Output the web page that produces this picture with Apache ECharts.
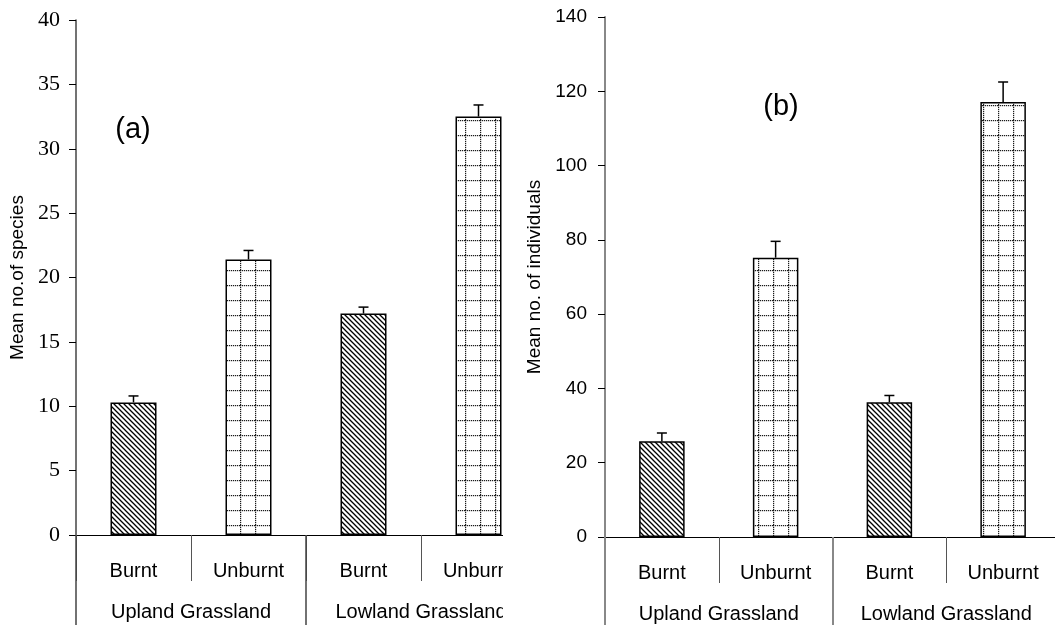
<!DOCTYPE html>
<html><head><meta charset="utf-8">
<script src="https://cdn.jsdelivr.net/npm/echarts@6/dist/echarts.min.js"></script>
<style>
html,body{margin:0;padding:0;width:1055px;height:625px;overflow:hidden;background:#fff;}
#wrapA{position:absolute;left:0;top:0;width:503px;height:625px;overflow:hidden;}
#chartA{position:absolute;left:0;top:0;width:560px;height:625px;}
#chartB{position:absolute;left:503px;top:0;width:560px;height:625px;}
</style></head><body>
<div id="wrapA"><div id="chartA"></div></div>
<div id="chartB"></div>
<script>
// ---- data ----
const categories = ['Burnt', 'Unburnt', 'Burnt', 'Unburnt'];
const groups = ['Upland Grassland', 'Lowland Grassland'];
const speciesMean = [10.3, 21.4, 17.2, 32.5];
const speciesErrTop = [10.8, 22.1, 17.7, 33.4];
const individualsMean = [25.8, 75.2, 36.3, 117.1];
const individualsErrTop = [28.0, 79.6, 38.1, 122.5];
const speciesTicks = [0, 40, 5];      // min, max, interval
const individualsTicks = [0, 140, 20]; // min, max, interval
const titleA = 'Mean no.of species';
const titleB = 'Mean no. of individuals';

// ---- patterns ----
function hatchPattern() {
  const s = 5, c = document.createElement('canvas'); c.width = s; c.height = s;
  const g = c.getContext('2d');
  g.fillStyle = '#fff'; g.fillRect(0, 0, s, s);
  g.strokeStyle = '#000'; g.lineWidth = 1.3;
  g.beginPath();
  g.moveTo(-1, -1); g.lineTo(s + 1, s + 1);
  g.moveTo(-1, s - 1); g.lineTo(1, s + 1);
  g.moveTo(s - 1, -1); g.lineTo(s + 1, 1);
  g.stroke();
  return c;
}
function gridPattern() {
  const s = 15, c = document.createElement('canvas'); c.width = s; c.height = s;
  const g = c.getContext('2d');
  g.fillStyle = '#fff'; g.fillRect(0, 0, s, s);
  g.fillStyle = '#1a1a1a';
  for (let x = 0; x < s; x += 2) g.fillRect(x, 0, 1.2, 1.2);
  for (let y = 0; y < s; y += 2) g.fillRect(0, y, 1.2, 1.2);
  return c;
}
const hatch = hatchPattern();
const gridP = gridPattern();

function renderErr(params, api) {
  const x = api.value(0), lo = api.value(1), hi = api.value(2);
  const p0 = api.coord([x, lo]), p1 = api.coord([x, hi]);
  const hw = 5;
  return {
    type: 'group', children: [
      { type: 'line', shape: { x1: p0[0], y1: p0[1], x2: p1[0], y2: p1[1] }, style: { stroke: '#000', lineWidth: 1.5 } },
      { type: 'line', shape: { x1: p1[0] - hw, y1: p1[1], x2: p1[0] + hw, y2: p1[1] }, style: { stroke: '#000', lineWidth: 1.5 } }
    ]
  };
}

function buildOption(cfg) {
  const sans = 'Liberation Sans, Arial, sans-serif';
  return {
    animation: false,
    grid: { left: cfg.left, top: cfg.top, width: cfg.width, height: cfg.height },
    xAxis: [
      {
        type: 'category', data: categories, position: 'bottom',
        axisLine: { show: true, lineStyle: { color: '#000', width: 1 } },
        axisTick: { show: true, interval: 0, length: 46, lineStyle: { color: '#555', width: 1 } },
        axisLabel: { interval: 0, margin: 26, fontSize: 20, fontFamily: sans, color: '#000' },
        splitLine: { show: false }
      },
      {
        type: 'category', data: groups, position: 'bottom',
        axisLine: { show: false },
        axisTick: { show: true, interval: 0, length: 100, lineStyle: { color: cfg.groupTickColor, width: cfg.groupTickWidth } },
        axisLabel: { interval: 0, margin: 67, fontSize: 20, fontFamily: sans, color: '#000' },
        splitLine: { show: false }
      }
    ],
    yAxis: {
      type: 'value', min: cfg.ticks[0], max: cfg.ticks[1], interval: cfg.ticks[2],
      axisLine: { show: true, lineStyle: { color: cfg.yLineColor, width: cfg.yLineWidth } },
      axisTick: { show: true, length: 7, lineStyle: { color: '#000', width: 1 } },
      axisLabel: { margin: cfg.labelMargin, fontSize: cfg.labelSize, fontFamily: cfg.labelFont, color: '#000' },
      splitLine: { show: false },
      name: cfg.title, nameLocation: 'middle', nameGap: cfg.nameGap,
      nameTextStyle: { fontSize: 19, fontFamily: sans, color: '#000' }
    },
    series: [
      {
        type: 'bar', xAxisIndex: 0, barWidth: '40%',
        data: cfg.values.map((v, i) => ({
          value: v,
          itemStyle: { color: { image: i % 2 ? gridP : hatch, repeat: 'repeat' } }
        })),
        itemStyle: { borderColor: '#000', borderWidth: 1.5 }
      },
      {
        type: 'custom', xAxisIndex: 0, z: 5,
        renderItem: renderErr,
        encode: { x: 0, y: [1, 2] },
        data: cfg.errTop.map((e, i) => [i, cfg.values[i], e])
      }
    ],
    graphic: [{
      type: 'text', x: cfg.tag[1], y: cfg.tag[2],
      style: { text: cfg.tag[0], font: '29px "Liberation Sans", Arial', fill: '#000', align: 'center', verticalAlign: 'middle' }
    }]
  };
}

const chartA = echarts.init(document.getElementById('chartA'), null, { renderer: 'canvas' });
chartA.setOption(buildOption({
  left: 76, top: 20, width: 460, height: 515,
  ticks: speciesTicks, values: speciesMean, errTop: speciesErrTop,
  yLineColor: '#444', yLineWidth: 1.5, groupTickColor: '#444', groupTickWidth: 1.5,
  labelMargin: 16, labelSize: 22, labelFont: 'Liberation Serif, Times New Roman, serif',
  title: titleA, nameGap: 48, tag: ['(a)', 133, 130]
}));

const chartB = echarts.init(document.getElementById('chartB'), null, { renderer: 'canvas' });
chartB.setOption(buildOption({
  left: 102, top: 17, width: 455, height: 520,
  ticks: individualsTicks, values: individualsMean, errTop: individualsErrTop,
  yLineColor: '#888', yLineWidth: 2, groupTickColor: '#888', groupTickWidth: 2,
  labelMargin: 18, labelSize: 19, labelFont: 'Liberation Sans, Arial, sans-serif',
  title: titleB, nameGap: 48, tag: ['(b)', 278, 107]
}));
</script>
</body></html>
